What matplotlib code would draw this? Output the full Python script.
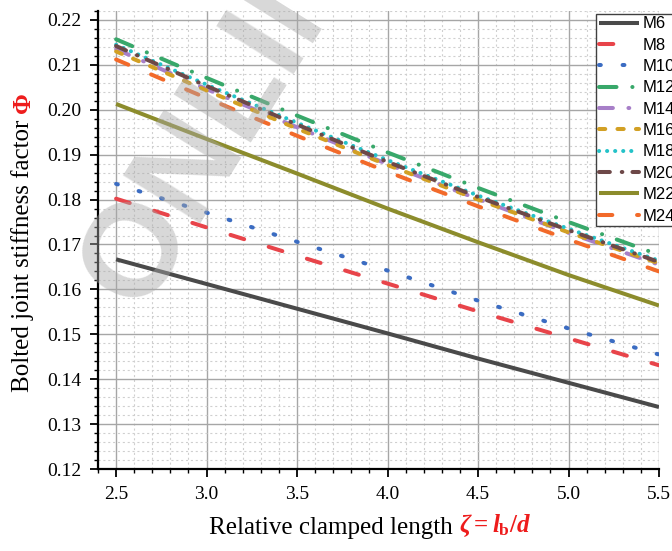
import matplotlib
matplotlib.use('Agg')
import matplotlib.pyplot as plt
from matplotlib.ticker import MultipleLocator, FormatStrFormatter

# 数据：相对夹紧长度 ζ 与各规格螺栓的刚度因子 Φ
zeta = [2.5, 3.0, 3.5, 4.0, 4.5, 5.0, 5.5]

M6 = [0.1667, 0.1612, 0.1557, 0.1502, 0.1446, 0.1392, 0.1338]
M8 = [0.1802, 0.1738, 0.1675, 0.1613, 0.1551, 0.1491, 0.1431]
M10 = [0.1835, 0.1771, 0.1706, 0.1642, 0.1575, 0.1513, 0.1455]
M12 = [0.2157, 0.2071, 0.1987, 0.1905, 0.1826, 0.1750, 0.1677]
M14 = [0.2135, 0.2046, 0.1961, 0.1879, 0.1801, 0.1726, 0.1655]
M16 = [0.2130, 0.2043, 0.1958, 0.1877, 0.1800, 0.1727, 0.1658]
M18 = [0.2145, 0.2056, 0.1971, 0.1888, 0.1809, 0.1735, 0.1664]
M20 = [0.2142, 0.2053, 0.1967, 0.1884, 0.1806, 0.1732, 0.1661]
M22 = [0.2013, 0.1935, 0.1858, 0.1780, 0.1705, 0.1632, 0.1564]
M24 = [0.2112, 0.2026, 0.1942, 0.1862, 0.1785, 0.1711, 0.1640]

labels = ['M6', 'M8', 'M10', 'M12', 'M14', 'M16', 'M18', 'M20', 'M22', 'M24']
series = [M6, M8, M10, M12, M14, M16, M18, M20, M22, M24]

colors = ['#4a4a4a', '#e8444a', '#3b6cc2', '#38a86a', '#a77fc8',
          '#d2a024', '#24c2c8', '#6d4848', '#8c8c2c', '#f26a2a']
# 线型（单位：pt，不随线宽缩放）
styles = ['-', (0, (10.3, 18.5)), (0, (1.3, 15.7)), (0, (12.6, 11.4, 0.1, 11.2)),
          (0, (10, 11.2, 0.6, 11.2)), (0, (4.5, 8.8)), (0, (0.1, 5.7)),
          (0, (7.8, 8.6, 0.4, 7.3)), '-', (0, (9.6, 17.8))]

plt.rcParams['lines.scale_dashes'] = False
plt.rcParams['mathtext.fontset'] = 'custom'
plt.rcParams['mathtext.rm'] = 'Liberation Serif:bold'
plt.rcParams['mathtext.it'] = 'Liberation Serif:italic:bold'
plt.rcParams['mathtext.bf'] = 'Liberation Serif:bold'

fig = plt.figure(figsize=(6.72, 5.51), dpi=100)
ax = fig.add_axes([98 / 672, (551 - 469) / 551, 561 / 672, 458 / 551])

for y, lab, c, ls in zip(series, labels, colors, styles):
    ax.plot(zeta, y, color=c, linestyle=ls, linewidth=2.9, label=lab,
            dash_capstyle='round', solid_capstyle='butt')

ax.set_xlim(2.4, 5.5)
ax.set_ylim(0.12, 0.222)
ax.xaxis.set_major_locator(MultipleLocator(0.5))
ax.xaxis.set_minor_locator(MultipleLocator(0.1))
ax.yaxis.set_major_locator(MultipleLocator(0.01))
ax.yaxis.set_minor_locator(MultipleLocator(0.002))
ax.xaxis.set_major_formatter(FormatStrFormatter('%.1f'))
ax.yaxis.set_major_formatter(FormatStrFormatter('%.2f'))

ax.grid(which='major', color='#a6a6a6', linewidth=1.0, linestyle='-')
ax.grid(which='minor', color='#cfcfcf', linewidth=0.8, linestyle=(0, (1.5, 2)))
ax.set_axisbelow(True)

ax.spines['top'].set_visible(False)
ax.spines['right'].set_visible(False)
for s in ['left', 'bottom']:
    ax.spines[s].set_linewidth(1.6)
    ax.spines[s].set_color('black')

ax.tick_params(which='major', direction='out', length=6, width=1.3,
               labelsize=14, pad=6)
ax.tick_params(which='minor', direction='out', length=3, width=1.0)
for t in ax.get_xticklabels() + ax.get_yticklabels():
    t.set_fontfamily('Liberation Serif')

# y 轴标题（黑色 + 红色 Φ）
t1 = fig.text(23 / 672, (551 - 392) / 551, 'Bolted joint stiffness factor ',
              rotation=90, ha='center', va='bottom', fontsize=18,
              family='Liberation Serif')
ax.annotate('Φ', xy=(0.5, 1), xycoords=t1, rotation=90, ha='center',
            va='bottom', fontsize=18, color='#ee1c1c', fontweight='bold',
            family='Liberation Serif', annotation_clip=False)

# x 轴标题（黑色 + 红色 ζ = l_b/d）
t2 = fig.text(209 / 672, (551 - 534) / 551, 'Relative clamped length ',
              ha='left', va='baseline', fontsize=18, family='Liberation Serif')
ax.annotate(r'$\zeta = l_\mathrm{b}/d$', xy=(1, 0), xycoords=t2,
            ha='left', va='bottom', fontsize=18, color='#ee1c1c',
            annotation_clip=False)

leg = ax.legend(loc='upper left', bbox_to_anchor=(596 / 672, (551 - 14) / 551),
                bbox_transform=fig.transFigure, frameon=True,
                fancybox=False, handlelength=2.45, handletextpad=0.18,
                labelspacing=0.38, borderpad=0.15, borderaxespad=0,
                prop={'family': 'Liberation Sans', 'size': 12})
leg.get_frame().set_edgecolor('#404040')
leg.get_frame().set_linewidth(1.0)
leg.get_frame().set_alpha(1)

# 水印
fig.text(140 / 672, (551 - 312) / 551, 'ONLINE', rotation=58,
         rotation_mode='anchor', ha='left', va='baseline', fontsize=95,
         fontweight='bold', family='Liberation Sans', color='#a8a8a8',
         alpha=0.45, zorder=10)

fig.savefig('out.png', dpi=100)
